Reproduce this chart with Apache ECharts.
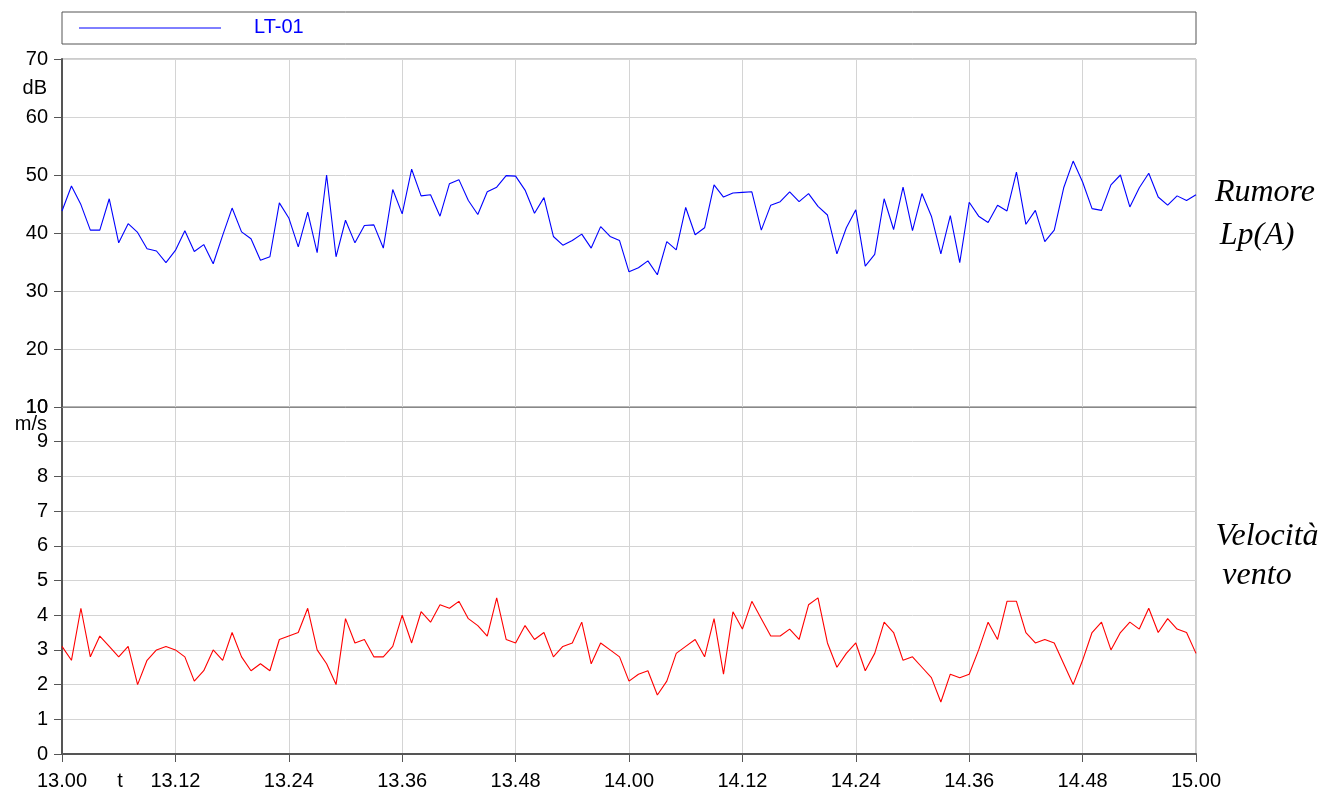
<!DOCTYPE html>
<html>
<head>
<meta charset="utf-8">
<script src="https://cdn.jsdelivr.net/npm/echarts@6/dist/echarts.min.js"></script>
<style>
  html, body { margin: 0; padding: 0; background: #fff; }
  #main { width: 1339px; height: 794px; }
</style>
</head>
<body>
<div id="main"></div>
<script>
// one sample per minute, 13.00 -> 15.00
var rumore = [43.8, 48.1, 44.9, 40.5, 40.5, 45.9, 38.3, 41.6, 40.1, 37.3, 36.9, 34.9,
  37.0, 40.4, 36.8, 38.0, 34.7, 39.6, 44.3, 40.2, 39.0, 35.3, 35.9, 45.2,
  42.6, 37.6, 43.6, 36.6, 50.0, 35.9, 42.2, 38.3, 41.3, 41.4, 37.4, 47.5,
  43.3, 51.0, 46.4, 46.6, 42.9, 48.5, 49.2, 45.6, 43.2, 47.1, 47.9, 49.9,
  49.8, 47.4, 43.4, 46.1, 39.4, 37.9, 38.7, 39.8, 37.4, 41.1, 39.4, 38.7,
  33.3, 34.0, 35.2, 32.8, 38.5, 37.1, 44.4, 39.7, 40.9, 48.3, 46.2, 46.9,
  47.0, 47.1, 40.5, 44.8, 45.4, 47.1, 45.4, 46.8, 44.6, 43.1, 36.4, 40.9,
  44.0, 34.3, 36.3, 45.9, 40.6, 47.9, 40.4, 46.8, 42.9, 36.4, 43.0, 34.9,
  45.3, 42.9, 41.8, 44.8, 43.8, 50.5, 41.5, 43.9, 38.5, 40.5, 47.8, 52.4,
  48.8, 44.2, 43.9, 48.3, 50.0, 44.5, 47.8, 50.3, 46.2, 44.8, 46.4, 45.6, 46.6];

var vento = [3.1, 2.7, 4.2, 2.8, 3.4, 3.1, 2.8, 3.1, 2.0, 2.7, 3.0, 3.1,
  3.0, 2.8, 2.1, 2.4, 3.0, 2.7, 3.5, 2.8, 2.4, 2.6, 2.4, 3.3,
  3.4, 3.5, 4.2, 3.0, 2.6, 2.0, 3.9, 3.2, 3.3, 2.8, 2.8, 3.1,
  4.0, 3.2, 4.1, 3.8, 4.3, 4.2, 4.4, 3.9, 3.7, 3.4, 4.5, 3.3,
  3.2, 3.7, 3.3, 3.5, 2.8, 3.1, 3.2, 3.8, 2.6, 3.2, 3.0, 2.8,
  2.1, 2.3, 2.4, 1.7, 2.1, 2.9, 3.1, 3.3, 2.8, 3.9, 2.3, 4.1,
  3.6, 4.4, 3.9, 3.4, 3.4, 3.6, 3.3, 4.3, 4.5, 3.2, 2.5, 2.9,
  3.2, 2.4, 2.9, 3.8, 3.5, 2.7, 2.8, 2.5, 2.2, 1.5, 2.3, 2.2,
  2.3, 3.0, 3.8, 3.3, 4.4, 4.4, 3.5, 3.2, 3.3, 3.2, 2.6, 2.0,
  2.7, 3.5, 3.8, 3.0, 3.5, 3.8, 3.6, 4.2, 3.5, 3.9, 3.6, 3.5, 2.9];

var xTickLabels = ['13.00', '13.12', '13.24', '13.36', '13.48', '14.00',
  '14.12', '14.24', '14.36', '14.48', '15.00'];

function pairs(arr) {
  return arr.map(function (v, i) { return [i, v]; });
}

var font = 'Liberation Sans, Arial, sans-serif';
var serif = 'italic 32px Liberation Serif, Times New Roman, serif';
var gridColor = '#d4d4d4';

var myChart = echarts.init(document.getElementById('main'));
var option = {
  animation: false,
  grid: [
    { left: 62, top: 59, width: 1134, height: 348, show: true, borderColor: '#999', borderWidth: 1 },
    { left: 62, top: 407, width: 1134, height: 347, show: true, borderColor: '#999', borderWidth: 1 }
  ],
  xAxis: [{
    gridIndex: 0, type: 'value', min: 0, max: 120, interval: 12,
    axisLine: { lineStyle: { color: '#888', width: 1 } },
    axisTick: { show: false },
    axisLabel: { show: false },
    splitLine: { lineStyle: { color: gridColor } }
  }, {
    gridIndex: 1, type: 'value', min: 0, max: 120, interval: 12,
    axisLine: { lineStyle: { color: '#555', width: 2 } },
    axisTick: { show: true, length: 8, lineStyle: { color: '#555' } },
    axisLabel: {
      color: '#000', fontSize: 20, fontFamily: font, margin: 17,
      formatter: function (v) { return xTickLabels[v / 12]; }
    },
    splitLine: { lineStyle: { color: gridColor } }
  }],
  yAxis: [{
    gridIndex: 0, type: 'value', min: 10, max: 70, interval: 10,
    axisLine: { show: true, lineStyle: { color: '#555', width: 2 } },
    axisTick: { show: true, length: 8, lineStyle: { color: '#555' } },
    axisLabel: { color: '#000', fontSize: 20, fontFamily: font, margin: 14 },
    splitLine: { lineStyle: { color: gridColor } }
  }, {
    gridIndex: 1, type: 'value', min: 0, max: 10, interval: 1,
    axisLine: { show: true, lineStyle: { color: '#555', width: 2 } },
    axisTick: { show: true, length: 8, lineStyle: { color: '#555' } },
    axisLabel: { color: '#000', fontSize: 20, fontFamily: font, margin: 14 },
    splitLine: { lineStyle: { color: gridColor } }
  }],
  series: [{
    name: 'LT-01', type: 'line', xAxisIndex: 0, yAxisIndex: 0,
    data: pairs(rumore), showSymbol: false,
    lineStyle: { color: '#0000ff', width: 1.1 }
  }, {
    name: 'Vento', type: 'line', xAxisIndex: 1, yAxisIndex: 1,
    data: pairs(vento), showSymbol: false,
    lineStyle: { color: '#ff0000', width: 1.1 }
  }],
  graphic: [
    { type: 'rect', shape: { x: 62, y: 12, width: 1134, height: 32 },
      style: { fill: '#fff', stroke: '#555', lineWidth: 1 } },
    { type: 'line', shape: { x1: 79, y1: 28, x2: 221, y2: 28 },
      style: { stroke: '#0000ff', lineWidth: 1 } },
    { type: 'text', x: 254, y: 27, style: { text: 'LT-01', fill: '#0000ff', font: '20px ' + font, textVerticalAlign: 'middle' } },
    { type: 'text', x: 47, y: 88, style: { text: 'dB', fill: '#000', font: '20px ' + font, textAlign: 'right', textVerticalAlign: 'middle' } },
    { type: 'text', x: 47, y: 424, style: { text: 'm/s', fill: '#000', font: '20px ' + font, textAlign: 'right', textVerticalAlign: 'middle' } },
    { type: 'text', x: 120, y: 781, style: { text: 't', fill: '#000', font: '20px ' + font, textAlign: 'center', textVerticalAlign: 'middle' } },
    { type: 'text', x: 1265, y: 193, style: { text: 'Rumore', fill: '#000', font: serif, textAlign: 'center', textVerticalAlign: 'middle' } },
    { type: 'text', x: 1257, y: 236, style: { text: 'Lp(A)', fill: '#000', font: serif, textAlign: 'center', textVerticalAlign: 'middle' } },
    { type: 'text', x: 1267, y: 537, style: { text: 'Velocità', fill: '#000', font: serif, textAlign: 'center', textVerticalAlign: 'middle' } },
    { type: 'text', x: 1257, y: 576, style: { text: 'vento', fill: '#000', font: serif, textAlign: 'center', textVerticalAlign: 'middle' } }
  ]
};
myChart.setOption(option);
</script>
</body>
</html>
